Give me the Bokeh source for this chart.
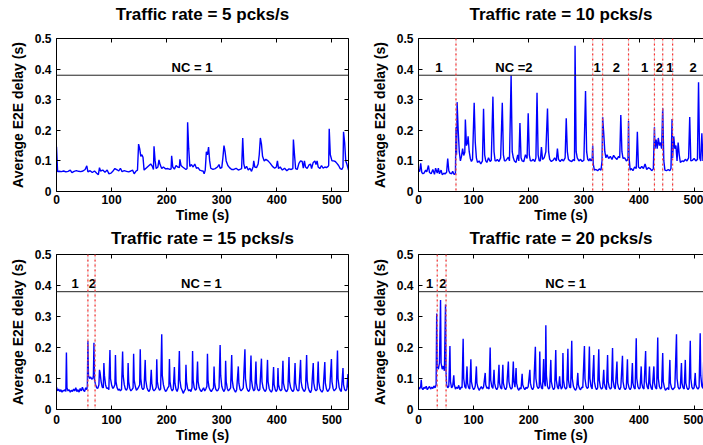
from bokeh.plotting import figure
from bokeh.models import Span, LinearAxis, Range1d, FixedTicker, ColumnDataSource
from bokeh.layouts import column, row
from bokeh.embed import file_html
from bokeh.resources import INLINE
from bokeh.core.properties import value

FONT = "Liberation Sans"

# ---------------- data ----------------
x_ticks = [0, 100, 200, 300, 400, 500]
x_tick_labels = ["0", "100", "200", "300", "400", "500"]
y_ticks = [0, 0.1, 0.2, 0.3, 0.4, 0.5]
y_tick_labels = ["0", "0.1", "0.2", "0.3", "0.4", "0.5"]
threshold = 0.38

titles = ["Traffic rate = 5 pcks/s", "Traffic rate = 10 pcks/s",
          "Traffic rate = 15 pcks/s", "Traffic rate = 20 pcks/s"]

# (time s, delay ms)
rate5 = [(0,146),(2,65),(5,66),(9,65),(13,67),(17,64),(21,66),(25,70),(28,62),(32,66),(36,68),(40,66),(44,65),(48,67),(52,72),(55,84),(57,64),(61,68),(65,62),(69,67),(73,60),(76,55),(78,78),(80,67),(84,70),(88,63),(92,70),(95,58),(99,60),(103,68),(106,75),(110,71),(113,67),(116,76),(119,65),(123,68),(127,66),(131,64),(135,67),(138,70),(141,58),(144,66),(147,70),(149,155),(151,140),(153,115),(155,120),(157,112),(159,70),(162,75),(165,80),(168,85),(171,90),(174,82),(176,72),(177,148),(179,100),(181,75),(184,80),(186,103),(188,88),(191,75),(194,80),(198,74),(202,75),(206,72),(208,74),(209,117),(211,80),(214,73),(217,85),(220,80),(223,78),(224,105),(226,85),(229,80),(232,76),(235,72),(237,75),(238,226),(240,140),(242,82),(245,88),(248,80),(251,90),(254,76),(257,78),(260,70),(263,68),(266,67),(268,58),(270,70),(272,130),(274,120),(276,145),(278,100),(280,76),(284,72),(288,75),(292,80),(295,88),(297,76),(300,78),(302,110),(304,150),(306,130),(308,100),(311,85),(314,78),(318,72),(322,72),(326,76),(330,70),(334,73),(336,75),(338,175),(340,90),(342,75),(345,82),(348,70),(351,76),(354,66),(357,82),(358,100),(360,80),(363,78),(366,90),(368,120),(370,175),(372,155),(374,115),(377,100),(380,105),(384,100),(388,92),(392,82),(396,76),(399,80),(401,100),(403,75),(406,80),(410,70),(414,76),(418,68),(422,74),(426,72),(429,75),(430,170),(432,120),(434,75),(437,72),(440,92),(443,100),(446,98),(448,76),(450,100),(452,80),(455,75),(458,86),(461,90),(463,75),(466,95),(469,100),(471,88),(473,100),(475,80),(478,75),(481,85),(484,76),(487,80),(490,78),(493,82),(494,85),(495,205),(497,120),(500,100),(503,100),(506,98),(509,92),(512,85),(515,75),(518,72),(520,80),(521,195),(523,160),(525,100),(527,90),(530,70)]

rate10 = [(0,72),(2,65),(4,92),(6,62),(8,58),(10,60),(13,70),(15,64),(18,85),(20,62),(23,58),(26,72),(29,56),(31,76),(34,60),(36,76),(38,58),(41,70),(43,55),(46,60),(48,57),(51,63),(53,108),(55,68),(57,60),(60,58),(62,66),(64,57),(66,56),(67,60),(68,210),(69,120),(70,292),(72,200),(74,130),(76,100),(78,115),(80,140),(82,118),(84,128),(85,235),(87,150),(89,160),(90,180),(92,130),(94,108),(96,98),(98,105),(101,290),(103,160),(105,110),(107,95),(110,100),(113,90),(116,100),(118,270),(120,120),(122,100),(124,95),(127,110),(130,98),(132,102),(135,310),(137,130),(139,100),(141,100),(143,105),(146,98),(149,110),(152,290),(154,120),(156,100),(158,100),(160,105),(163,112),(165,100),(168,380),(170,130),(172,110),(174,100),(177,95),(180,120),(182,100),(184,224),(186,110),(188,100),(191,98),(194,120),(197,108),(199,256),(201,120),(203,100),(205,100),(208,105),(211,98),(213,110),(215,323),(217,120),(219,100),(221,100),(223,145),(225,105),(228,110),(231,130),(234,271),(236,130),(238,105),(241,98),(244,102),(247,110),(250,100),(252,140),(254,105),(257,98),(260,105),(263,100),(266,110),(268,239),(270,130),(272,105),(275,100),(278,98),(281,105),(283,100),(284,476),(286,130),(288,110),(291,100),(294,105),(297,98),(300,102),(303,328),(305,130),(307,105),(309,100),(311,108),(313,100),(315,105),(316,150),(317,90),(319,70),(322,72),(325,68),(328,74),(331,70),(333,100),(334,243),(336,190),(338,130),(340,110),(342,120),(345,108),(348,115),(351,105),(354,118),(357,110),(360,105),(363,115),(365,110),(367,250),(369,130),(371,108),(374,110),(377,100),(380,105),(381,230),(382,110),(384,70),(386,75),(389,68),(392,80),(395,75),(397,195),(399,80),(402,75),(405,82),(408,75),(411,90),(414,72),(417,78),(420,75),(423,68),(426,74),(428,210),(429,140),(431,170),(433,140),(435,175),(437,150),(439,160),(441,140),(443,272),(445,100),(447,70),(450,68),(453,72),(456,68),(458,75),(460,237),(461,110),(463,180),(465,140),(467,150),(469,100),(471,160),(473,120),(475,95),(478,100),(481,98),(484,105),(487,100),(490,110),(492,243),(494,100),(497,102),(500,108),(503,100),(506,105),(508,357),(510,110),(512,100),(514,190),(516,100),(519,110),(522,105),(525,100),(528,110),(530,100)]

rate15 = [(0,72),(2,60),(4,66),(6,58),(8,64),(10,56),(12,62),(14,60),(16,65),(17,58),(18,184),(19,70),(21,60),(23,64),(25,56),(27,62),(29,58),(31,66),(33,60),(35,70),(37,58),(39,64),(41,56),(43,68),(45,60),(47,72),(49,62),(51,58),(53,70),(55,64),(56,75),(57,221),(58,110),(60,100),(62,105),(64,98),(66,100),(67,110),(68,215),(69,95),(71,80),(73,70),(75,68),(77,80),(78,128),(79,120),(81,90),(83,72),(85,70),(86,150),(87,110),(89,80),(91,68),(93,70),(95,64),(97,192),(98,100),(100,80),(102,68),(104,72),(106,80),(107,176),(108,90),(110,70),(112,62),(114,66),(116,60),(118,64),(120,187),(121,110),(123,80),(125,66),(127,62),(129,70),(130,150),(131,90),(133,68),(135,60),(137,64),(139,70),(140,180),(141,95),(143,75),(145,62),(147,66),(149,72),(151,80),(152,194),(153,100),(155,70),(157,64),(159,70),(161,160),(162,95),(164,72),(166,62),(168,58),(170,66),(172,128),(173,85),(175,65),(177,60),(179,64),(181,72),(182,162),(183,90),(185,70),(187,62),(189,66),(191,243),(192,110),(194,80),(196,66),(198,58),(200,62),(202,70),(204,75),(205,163),(206,90),(208,68),(210,60),(212,66),(214,137),(215,85),(217,65),(219,58),(221,70),(223,189),(224,95),(226,70),(228,62),(230,52),(232,60),(234,66),(235,144),(236,90),(238,68),(240,60),(242,64),(244,58),(246,70),(247,189),(248,95),(250,70),(252,62),(254,66),(256,155),(257,90),(259,70),(261,62),(263,58),(265,64),(267,70),(269,60),(271,66),(273,75),(274,180),(275,95),(277,70),(279,62),(281,58),(283,64),(285,70),(286,139),(287,85),(289,66),(291,60),(293,62),(295,70),(297,208),(298,110),(300,75),(302,64),(304,58),(306,66),(307,157),(308,90),(310,68),(312,60),(314,64),(316,70),(318,176),(319,95),(321,70),(323,62),(325,56),(327,64),(330,139),(331,85),(333,66),(335,60),(337,64),(339,70),(342,194),(343,100),(345,72),(347,62),(349,58),(351,66),(353,174),(354,95),(356,70),(358,60),(360,64),(362,155),(363,85),(365,66),(367,60),(369,64),(372,164),(373,90),(375,70),(377,62),(379,58),(381,66),(383,160),(384,90),(386,68),(388,60),(390,56),(392,64),(394,137),(395,80),(397,64),(399,58),(401,66),(402,134),(403,80),(405,66),(407,60),(409,64),(411,157),(412,85),(414,68),(416,60),(418,58),(420,66),(422,169),(423,90),(425,70),(427,62),(429,58),(431,64),(433,150),(434,85),(436,66),(438,60),(440,62),(443,160),(444,90),(446,70),(448,62),(450,58),(452,66),(454,176),(455,95),(457,70),(459,60),(461,54),(463,64),(466,150),(467,85),(469,66),(471,60),(473,64),(475,155),(476,90),(478,68),(480,60),(482,56),(484,64),(487,153),(488,85),(490,66),(492,58),(494,62),(496,70),(499,163),(500,90),(502,68),(504,60),(506,64),(508,70),(510,190),(511,100),(513,72),(515,62),(517,58),(520,134),(521,80),(523,64),(525,60),(527,66),(529,114),(530,70)]

rate20 = [(0,72),(2,66),(4,74),(5,96),(6,70),(8,64),(10,72),(12,68),(14,75),(16,64),(18,70),(20,74),(22,66),(24,72),(26,68),(28,76),(30,70),(32,80),(33,310),(34,140),(36,130),(38,150),(40,353),(41,150),(43,130),(45,140),(47,125),(49,339),(50,120),(51,80),(53,70),(55,75),(57,205),(58,90),(60,70),(62,75),(64,110),(65,80),(67,66),(69,72),(71,68),(73,78),(75,64),(77,72),(79,70),(81,228),(82,100),(84,74),(86,68),(88,139),(89,85),(91,70),(93,66),(95,162),(96,90),(98,72),(100,64),(102,70),(103,76),(105,139),(106,85),(108,70),(110,62),(112,68),(114,74),(116,66),(118,72),(121,118),(122,80),(124,68),(126,72),(128,66),(130,200),(131,95),(133,74),(135,68),(137,128),(138,85),(140,70),(142,64),(144,72),(146,144),(147,85),(149,70),(151,66),(153,144),(154,85),(156,70),(158,64),(160,72),(163,155),(164,90),(166,72),(168,66),(170,70),(172,155),(173,90),(175,72),(177,134),(178,85),(180,68),(182,62),(184,70),(186,66),(188,115),(189,80),(191,70),(193,64),(195,72),(197,68),(199,74),(202,128),(203,85),(205,70),(207,64),(209,72),(212,202),(213,100),(215,75),(217,68),(219,72),(220,187),(221,90),(223,70),(225,66),(227,163),(228,90),(230,75),(231,272),(232,110),(234,75),(236,66),(238,70),(240,160),(241,90),(243,72),(245,64),(247,70),(249,192),(250,95),(252,72),(254,66),(256,107),(257,80),(259,66),(261,72),(262,182),(263,95),(265,72),(267,66),(269,70),(271,196),(272,95),(274,72),(276,70),(278,222),(279,100),(281,75),(283,66),(285,62),(287,70),(289,118),(290,80),(292,68),(294,64),(296,72),(298,70),(301,205),(302,100),(304,75),(306,68),(308,72),(310,203),(311,100),(313,74),(315,66),(318,176),(319,90),(321,72),(323,64),(325,70),(327,194),(328,95),(330,72),(332,66),(334,70),(336,128),(337,85),(339,70),(341,64),(343,176),(344,90),(346,72),(348,66),(350,70),(352,198),(353,95),(355,72),(357,66),(360,155),(361,85),(363,70),(365,64),(367,72),(370,173),(371,90),(373,70),(375,64),(377,70),(379,162),(380,85),(382,70),(384,64),(386,72),(388,150),(389,85),(391,70),(393,66),(395,230),(396,100),(398,74),(400,66),(402,70),(404,139),(405,85),(407,70),(409,66),(412,189),(413,90),(415,72),(417,66),(419,139),(420,85),(422,70),(424,64),(427,139),(428,85),(430,70),(432,66),(434,232),(435,100),(437,74),(439,66),(441,70),(443,182),(444,90),(446,72),(448,62),(450,66),(452,70),(454,64),(456,160),(457,85),(459,70),(461,64),(463,68),(465,72),(468,243),(469,100),(471,72),(473,66),(475,70),(477,150),(478,85),(480,70),(482,66),(484,160),(485,85),(487,70),(489,64),(491,70),(493,222),(494,100),(496,72),(498,66),(500,70),(502,118),(503,80),(505,70),(507,66),(509,72),(511,246),(512,110),(514,75),(516,68),(518,200),(519,90),(521,72),(523,66),(525,70),(527,180),(528,85),(530,72)]

# switching instants (red dotted lines)
switch5 = []
switch10 = [68, 316, 334, 381, 428, 443, 461]
switch15 = [57, 70]
switch20 = [34, 50]

# NC annotations
labels5_x = [246]
labels5_t = ["NC = 1"]
labels10_x = [37, 173, 324, 359, 410, 437, 456, 498]
labels10_t = ["1", "NC =2", "1", "2", "1", "2", "1", "2"]
labels15_x = [34, 65, 263]
labels15_t = ["1", "2", "NC = 1"]
labels20_x = [20, 44, 267]
labels20_t = ["1", "2", "NC = 1"]
label_y = 0.405


def style_axis(ax, ticks, labels, show, standoff):
    ax.ticker = FixedTicker(ticks=ticks)
    ax.major_label_overrides = {tk: lb for tk, lb in zip(ticks, labels)}
    ax.major_tick_in = 4
    ax.major_tick_out = 0
    ax.minor_tick_in = 0
    ax.minor_tick_out = 0
    ax.axis_line_color = "black"
    ax.axis_line_width = 1
    ax.major_tick_line_color = "black"
    ax.major_label_text_font = FONT
    ax.major_label_text_font_style = "bold"
    ax.major_label_text_color = "black"
    ax.major_label_standoff = standoff
    if show:
        ax.major_label_text_font_size = "12px"
    else:
        ax.major_label_text_font_size = "1px"
        ax.major_label_text_alpha = 0
    ax.axis_label_text_font = FONT
    ax.axis_label_text_font_style = "bold"
    ax.axis_label_text_color = "black"


def panel(title, series, switches, lab_x, lab_t, width, height, b_left, b_right,
          b_top, b_bottom, x_end, right_axis, title_gap, tick_gap):
    p = figure(width=width, height=height, x_range=Range1d(0, x_end), y_range=Range1d(0, 0.5),
               output_backend="svg", toolbar_location=None,
               x_axis_location=None, y_axis_location=None,
               min_border_left=b_left, min_border_right=b_right,
               min_border_top=b_top, min_border_bottom=b_bottom)
    p.outline_line_color = None
    p.background_fill_color = "white"
    p.border_fill_color = "white"
    p.xgrid.visible = False
    p.ygrid.visible = False

    bottom = LinearAxis(axis_label="Time (s)")
    style_axis(bottom, x_ticks, x_tick_labels, True, tick_gap)
    bottom.axis_label_text_font_size = "14px"
    bottom.axis_label_standoff = 0
    p.add_layout(bottom, "below")

    left = LinearAxis(axis_label="Average E2E delay (s)")
    style_axis(left, y_ticks, y_tick_labels, True, 5)
    left.axis_label_text_font_size = "14px"
    left.axis_label_standoff = 6
    p.add_layout(left, "left")

    # top frame edge, carrying the title as its label
    top = LinearAxis(axis_label=title)
    style_axis(top, x_ticks, x_tick_labels, False, 0)
    top.axis_label_text_font_size = "17px"
    top.axis_label_standoff = title_gap
    p.add_layout(top, "above")

    if right_axis:
        right = LinearAxis()
        style_axis(right, y_ticks, y_tick_labels, False, 0)
        p.add_layout(right, "right")

    p.add_layout(Span(location=threshold, dimension="width", line_color="#222222", line_width=1))
    for s in switches:
        p.add_layout(Span(location=s, dimension="height", line_color="#aaaaaa",
                          line_dash="1 2", line_width=1))
        p.add_layout(Span(location=s, dimension="height", line_color="#ff3333",
                          line_dash="2 3", line_width=1.2))

    xs = [a for a, b in series]
    ys = [b / 1000.0 for a, b in series]
    p.line(xs, ys, line_color="#0000ff", line_width=1.4)

    src = ColumnDataSource(dict(x=lab_x, y=[label_y] * len(lab_x), text=lab_t))
    p.text(x="x", y="y", text="text", source=src, text_font=value(FONT),
           text_font_style="bold", text_font_size="13px", text_align="center",
           text_baseline="middle", text_color="black")
    return p


LW, RW = 362, 341
TH, BH = 225, 220

p1 = panel(titles[0], rate5, switch5, labels5_x, labels5_t, LW, TH, 56, 14, 38, 32, 530, True, 15, 3)
p2 = panel(titles[1], rate10, switch10, labels10_x, labels10_t, RW, TH, 56, 0, 38, 32, 517, False, 15, 3)
p3 = panel(titles[2], rate15, switch15, labels15_x, labels15_t, LW, BH, 56, 14, 29, 35, 530, True, 7, 5)
p4 = panel(titles[3], rate20, switch20, labels20_x, labels20_t, RW, BH, 56, 0, 29, 35, 517, False, 7, 5)

layout = column(row(p1, p2), row(p3, p4))

open("out.html", "w").write(file_html(layout, INLINE))
